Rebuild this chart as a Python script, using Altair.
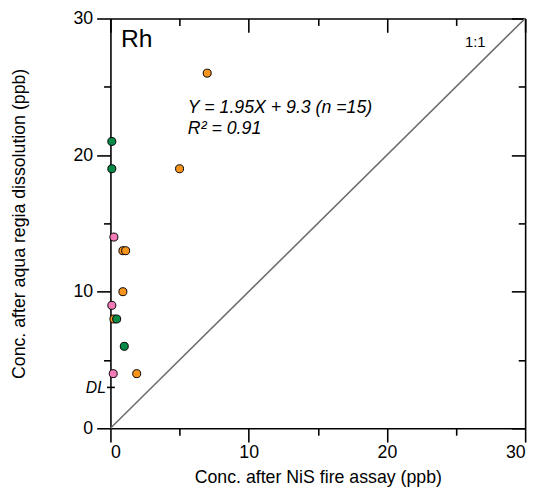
import altair as alt
import pandas as pd

# ---- data ----
orange_x = [7.0, 5.0, 0.9, 1.1, 0.9, 0.25, 1.9]
orange_y = [26.0, 19.0, 13.0, 13.0, 10.0, 8.0, 4.0]
green_x = [0.1, 0.1, 0.45, 1.0]
green_y = [21.0, 19.0, 8.0, 6.0]
pink_x = [0.25, 0.1, 0.2]
pink_y = [14.0, 9.0, 4.0]

major_ticks = [0, 10, 20, 30]
minor_ticks = [5, 15, 25]
dl_value = [3]
one_to_one = [0, 30]

groups = ["orange", "green", "pink"]
colors = ["#F7941D", "#068A45", "#F27AB6"]

rows = []
for g, xs, ys in [("orange", orange_x, orange_y), ("green", green_x, green_y), ("pink", pink_x, pink_y)]:
    for a, b in zip(xs, ys):
        rows.append({"x": a, "y": b, "g": g})
pts = pd.DataFrame(rows)
line_df = pd.DataFrame({"x": one_to_one, "y": one_to_one})

W, H = 421, 416
FONT = "Arial, Liberation Sans"
sc = alt.Scale(domain=[0, 30], nice=False, zero=False)


def ax(orient, values, size, labels=False, offset=0, domain=True, **kw):
    args = dict(orient=orient, values=values, tickSize=size, labels=labels,
                domain=domain, grid=False, domainColor="black", domainWidth=1.6,
                tickColor="black", tickWidth=1.6, labelFont=FONT, labelFontSize=18,
                labelColor="black", offset=offset)
    args.update(kw)
    if "title" not in args:
        args["title"] = None
    return alt.Axis(**args)


# 1:1 line with main bottom / left axes
line = alt.Chart(line_df).mark_line(color="#6E6E6E", strokeWidth=1.6).encode(
    x=alt.X("x:Q", scale=sc, axis=ax("bottom", major_ticks, 14, labels=True, labelPadding=2,
            title="Conc. after NiS fire assay (ppb)", titleFont=FONT, titleFontSize=18,
            titleFontWeight="normal", titleColor="black", titleX=W / 2, titleY=55,
            titleBaseline="alphabetic", titleAlign="center")),
    y=alt.Y("y:Q", scale=sc, axis=ax("left", major_ticks, 14, labels=True, labelPadding=4,
            title="Conc. after aqua regia dissolution (ppb)", titleFont=FONT, titleFontSize=18,
            titleFontWeight="normal", titleColor="black", titleX=-87, titleY=H / 2,
            titleBaseline="alphabetic", titleAlign="center", titleAngle=-90)),
)

points = alt.Chart(pts).mark_circle(size=66, opacity=1, stroke="black", strokeWidth=1).encode(
    x=alt.X("x:Q", scale=sc, axis=ax("bottom", minor_ticks, 7, domain=False)),
    y=alt.Y("y:Q", scale=sc, axis=ax("left", minor_ticks, 7, domain=False)),
    color=alt.Color("g:N", scale=alt.Scale(domain=groups, range=colors), legend=None),
)

rh_df = pd.DataFrame({"x": [0.76], "y": [27.95], "t": ["Rh"]})
rh = alt.Chart(rh_df).mark_text(font=FONT, fontSize=25, align="left", baseline="alphabetic",
                                color="black").encode(
    x=alt.X("x:Q", scale=sc, axis=ax("bottom", major_ticks, 14, offset=-H)),
    y=alt.Y("y:Q", scale=sc, axis=ax("left", major_ticks, 14, offset=-W)),
    text="t:N",
)

eq1_df = pd.DataFrame({"x": [5.6], "y": [23.07], "t": ["Y = 1.95X + 9.3 (n =15)"]})
eq1 = alt.Chart(eq1_df).mark_text(font=FONT, fontSize=18, fontStyle="italic", align="left",
                                  baseline="alphabetic", color="black").encode(
    x=alt.X("x:Q", scale=sc, axis=ax("bottom", minor_ticks, 7, offset=-H, domain=False)),
    y=alt.Y("y:Q", scale=sc, axis=ax("left", minor_ticks, 7, offset=-W, domain=False)),
    text="t:N",
)

eq2_df = pd.DataFrame({"x": [5.6], "y": [21.58], "t": ["R² = 0.91"]})
eq2 = alt.Chart(eq2_df).mark_text(font=FONT, fontSize=18, fontStyle="italic", align="left",
                                  baseline="alphabetic", color="black").encode(
    x=alt.X("x:Q", scale=sc, axis=None),
    y=alt.Y("y:Q", scale=sc, axis=ax("left", dl_value, 4, labels=True, domain=False,
            labelExpr="'DL'", labelFontStyle="italic", labelFontSize=16, labelPadding=1)),
    text="t:N",
)

oo_df = pd.DataFrame({"x": [27.13], "y": [27.95], "t": ["1:1"]})
oo = alt.Chart(oo_df).mark_text(font=FONT, fontSize=15, align="right", baseline="alphabetic",
                                color="black").encode(
    x=alt.X("x:Q", scale=sc, axis=None),
    y=alt.Y("y:Q", scale=sc, axis=ax("right", dl_value, 4, offset=-W, domain=False)),
    text="t:N",
)

chart = alt.layer(line, points, rh, eq1, eq2, oo).resolve_scale(
    x="shared", y="shared"
).resolve_axis(
    x="independent", y="independent"
).properties(
    width=W, height=H,
    autosize=alt.AutoSizeParams(type="none"),
    padding={"left": 104, "top": 7, "right": 10, "bottom": 60},
    background="white",
).configure_view(stroke=None)

chart.save("out.html", embed_options={"renderer": "svg", "actions": False})
